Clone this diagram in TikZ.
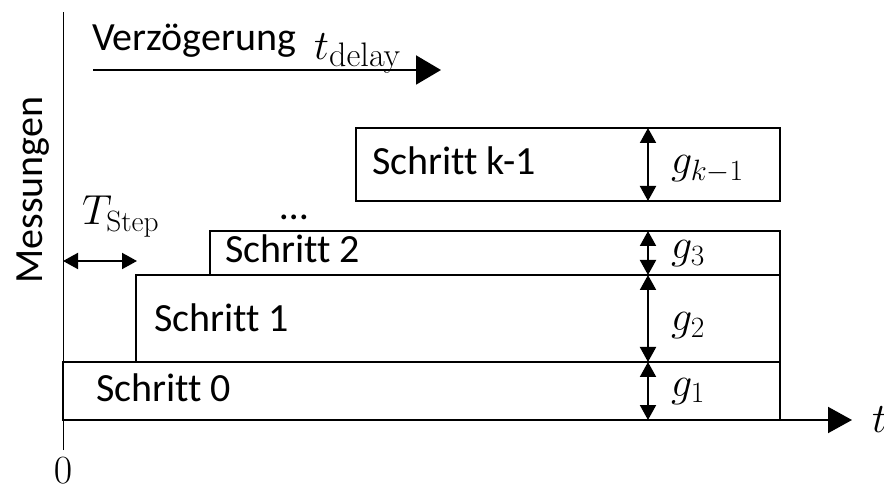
\RequirePackage{fix-cm}
\documentclass[tikz,border=0pt]{standalone}
\usepackage[no-math]{fontspec}
\setmainfont{Carlito}[Ligatures=NoCommon]
\usetikzlibrary{arrows.meta}
\begin{document}
\begin{tikzpicture}[x=1pt,y=-1pt,
  box/.style={draw,line width=2pt},
  lbl/.style={anchor=base west,inner sep=0pt,font=\fontsize{40}{48}\selectfont},
  mlbl/.style={anchor=base west,inner sep=0pt,font=\fontsize{42}{50}\selectfont},
  gap/.style={line width=2pt,{Triangle[length=15pt,width=16pt]}-{Triangle[length=15pt,width=16pt]}},
  bigtip/.style={line width=2pt,-{Triangle[length=24pt,width=26pt]}},
  ]
\useasboundingbox (0,0) rectangle (884,486);

% axes
\coordinate (ytop) at (63,12);
\coordinate (ybot) at (63,450);
\coordinate (o) at (63,420);
\coordinate (tend) at (852,420);
\draw[line width=1pt] (ybot) -- (ytop);
\draw[bigtip] (o) -- (tend);
\node[mlbl] (tlab) at (872,432) {$t$};
\node[anchor=base,inner sep=0pt,font=\fontsize{40}{48}\selectfont] (zero) at (63,483) {$0$};
\node[anchor=base,inner sep=0pt,rotate=90,font=\fontsize{40}{48}\selectfont] (mess) at (42,190) {Messungen};

% measurement steps
\draw[box] (63,362) rectangle (780,420);
\draw[box] (136,275) rectangle (780,362);
\draw[box] (210,231) rectangle (780,275);
\draw[box] (356,128) rectangle (780,201);

\node[lbl] (s0) at (96,402) {Schritt 0};
\node[lbl] (s1) at (154,332) {Schritt 1};
\node[lbl] (s2) at (225,263) {Schritt 2};
\node[lbl] (sk) at (372,175) {Schritt k-1};
\node[lbl] (dots) at (280,220) {…};

% heights of the steps
\coordinate (a0) at (648,420);
\coordinate (a1) at (648,362);
\coordinate (a2) at (648,275);
\coordinate (a3) at (648,231);
\coordinate (ak0) at (648,201);
\coordinate (ak1) at (648,128);
\draw[gap] (a0) -- (a1);
\draw[gap] (a1) -- (a2);
\draw[gap] (a2) -- (a3);
\draw[gap] (ak0) -- (ak1);
\node[mlbl] (g1) at (671,396) {$g_1$};
\node[mlbl] (g2) at (671,331) {$g_2$};
\node[mlbl] (g3) at (671,259) {$g_3$};
\node[mlbl] (gk) at (671,174) {$g_{k-1}$};

% step width
\coordinate (ts0) at (63,261);
\coordinate (ts1) at (137,261);
\draw[gap] (ts0) -- (ts1);
\node[mlbl] (tstep) at (82,225) {$T_{\mathrm{Step}}$};

% delay arrow
\coordinate (d0) at (93,70);
\coordinate (d1) at (441,70);
\draw[line width=2pt,-{Triangle[length=25pt,width=29pt]}] (d0) -- (d1);
\node[lbl] (delay) at (92,51) {Verzögerung};
\node[mlbl] (tdel) at (314,60) {$t$};
\node[anchor=base west,inner sep=0pt,font=\fontsize{34}{40}\selectfont] (tdelsub) at (329,67) {$\mathrm{delay}$};
\end{tikzpicture}
\end{document}
